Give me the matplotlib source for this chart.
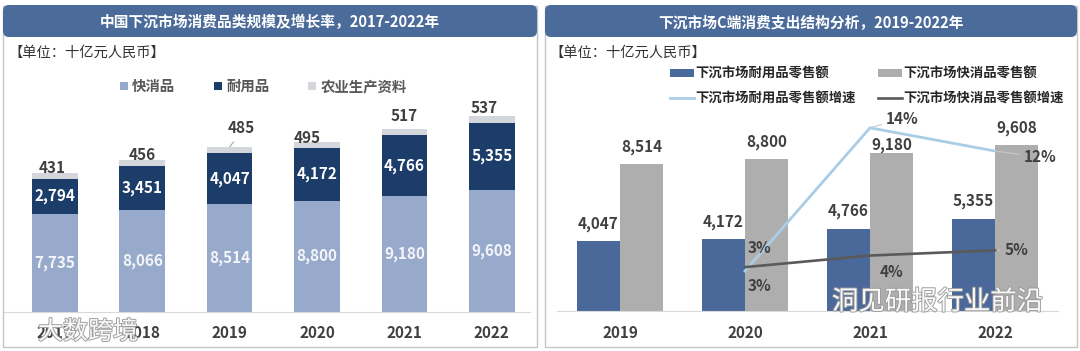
import numpy as np
import matplotlib
matplotlib.use('Agg')
import matplotlib.pyplot as plt
from matplotlib.patches import FancyBboxPatch, Rectangle
from matplotlib.lines import Line2D
import matplotlib.patheffects as pe

plt.rcParams['font.family'] = ['Noto Sans CJK SC', 'DejaVu Sans']

# ---------------- data ----------------
left_title = '中国下沉市场消费品类规模及增长率，2017-2022年'
right_title = '下沉市场C端消费支出结构分析，2019-2022年'
unit_text = '【单位：十亿元人民币】'

years_left = ['2017', '2018', '2019', '2020', '2021', '2022']
left_series = ['快消品', '耐用品', '农业生产资料']
fmcg = [7735, 8066, 8514, 8800, 9180, 9608]
durable = [2794, 3451, 4047, 4172, 4766, 5355]
agri = [431, 456, 485, 495, 517, 537]

years_right = ['2019', '2020', '2021', '2022']
right_series = ['下沉市场耐用品零售额', '下沉市场快消品零售额',
                '下沉市场耐用品零售额增速', '下沉市场快消品零售额增速']
durable_retail = [4047, 4172, 4766, 5355]
fmcg_retail = [8514, 8800, 9180, 9608]
growth_years = ['2020', '2021', '2022']
durable_growth = [3.1, 14.2, 12.4]
fmcg_growth = [3.4, 4.3, 4.7]

watermarks = ['大数跨境', '洞见研报行业前沿']

# ---------------- style ----------------
W, H = 1080, 351
C_TITLE = '#4B6C9B'
C_L1, C_L2, C_L3 = '#97AACB', '#1C3C69', '#D3D6DB'
C_R1, C_R2 = '#4A689A', '#AEAEAE'
C_G1, C_G2 = '#A9CDE5', '#5A5A5A'
C_TXT = '#404040'
PX = 0.72  # px -> pt

fig = plt.figure(figsize=(W / 100, H / 100), dpi=100)
fig.patch.set_facecolor('white')


def ax_rect(x0, x1, ytop, ybot):
    return [x0 / W, 1 - ybot / H, (x1 - x0) / W, (ybot - ytop) / H]


# panels + title bars
for x0, x1, title, ux in [(3, 537, left_title, 8), (545, 1077, right_title, 549)]:
    fig.add_artist(Rectangle((x0 / 100, (H - 347) / 100), (x1 - x0) / 100, (347 - 6) / 100,
                             transform=fig.dpi_scale_trans, fill=False,
                             edgecolor='#c4c4c4', lw=1.0))
    fig.add_artist(FancyBboxPatch((x0 / 100, (H - 37) / 100), (x1 - x0) / 100, 32 / 100,
                                  boxstyle='round,pad=0,rounding_size=0.06',
                                  transform=fig.dpi_scale_trans,
                                  facecolor=C_TITLE, edgecolor='none'))
    fig.text(((x0 + x1) / 2) / W, 1 - 22 / H, title, ha='center', va='center',
             color='white', fontsize=10.6, fontweight='bold')
    fig.text(ux / W, 1 - 53 / H, unit_text, ha='left', va='center',
             color='#333333', fontsize=10.3)

# ---------------- left chart ----------------
axL = fig.add_axes(ax_rect(3, 530, 100, 312))
xl = np.arange(len(years_left))
bw = 45.5 / 87.4
b1 = axL.bar(xl, fmcg, bw, color=C_L1, zorder=2)
b2 = axL.bar(xl, durable, bw, bottom=fmcg, color=C_L2, zorder=2)
tot2 = np.array(fmcg) + np.array(durable)
b3 = axL.bar(xl, agri, bw, bottom=tot2, color=C_L3, zorder=2)
axL.set_xlim(-0.593, 5.436)
axL.set_ylim(0, 212 * 79)
axL.set_yticks([])
axL.set_xticks(xl, years_left)
axL.tick_params(axis='x', length=0, pad=9.5, labelsize=11, labelcolor=C_TXT)
for lab in axL.get_xticklabels():
    lab.set_fontweight('bold')
for s in ['top', 'left', 'right']:
    axL.spines[s].set_visible(False)
axL.spines['bottom'].set_color('#d9d9d9')

for i in xl:
    axL.text(i, fmcg[i] / 2, f'{fmcg[i]:,}', ha='center', va='center',
             color='#f3f5f9', fontsize=11, fontweight='bold', zorder=3)
    axL.text(i, fmcg[i] + durable[i] / 2, f'{durable[i]:,}', ha='center', va='center',
             color='white', fontsize=11, fontweight='bold', zorder=3)

left_off = [(-3, 5), (0, 5), (11.5, 19), (-10, 4), (0, 13), (-8, 8)]
for i in xl:
    dx, dy = left_off[i]
    kw = {}
    if dy > 15:
        kw['arrowprops'] = dict(arrowstyle='-', color='#a6a6a6', lw=0.8,
                                shrinkA=3, shrinkB=0, relpos=(0.4, 0))
    axL.annotate(f'{agri[i]:,}', xy=(i, tot2[i] + agri[i]), xytext=(dx * PX, dy * PX),
                 textcoords='offset points', ha='center', va='center',
                 color=C_TXT, fontsize=11, fontweight='bold', zorder=4, **kw)

fig.legend(handles=[b1, b2, b3], labels=left_series, ncol=3, loc='center',
           bbox_to_anchor=(263.5 / W, 1 - 87 / H), frameon=False,
           prop={'size': 10.4, 'weight': 'bold'}, labelcolor='#595959',
           handlelength=0.55, handleheight=0.55, handletextpad=0.28,
           columnspacing=2.7, borderpad=0)

# ---------------- right chart ----------------
axR = fig.add_axes(ax_rect(557, 1058, 120, 311))
xr = np.arange(len(years_right))
bw2 = 43 / 125
hb = axR.bar(xr - bw2 / 2, durable_retail, bw2, color=C_R1, zorder=2)
hg = axR.bar(xr + bw2 / 2, fmcg_retail, bw2, color=C_R2, zorder=2)
axR.set_xlim(-0.504, 3.504)
axR.set_ylim(0, 191 * 58)
axR.set_yticks([])
axR.set_xticks(xr, years_right)
axR.tick_params(axis='x', length=0, pad=10, labelsize=11, labelcolor=C_TXT)
for lab in axR.get_xticklabels():
    lab.set_fontweight('bold')
for s in ['top', 'left', 'right']:
    axR.spines[s].set_visible(False)
axR.spines['bottom'].set_color('#d9d9d9')

fmcg_lab_dy = [17.5, 17.5, 8, 17.5]
for i in xr:
    axR.annotate(f'{durable_retail[i]:,}', xy=(i - bw2 / 2, durable_retail[i]),
                 xytext=(0, 17.5 * PX), textcoords='offset points', ha='center',
                 va='center', color=C_TXT, fontsize=11, fontweight='bold')
    axR.annotate(f'{fmcg_retail[i]:,}', xy=(i + bw2 / 2, fmcg_retail[i]),
                 xytext=(0, fmcg_lab_dy[i] * PX), textcoords='offset points', ha='center',
                 va='center', color=C_TXT, fontsize=11, fontweight='bold')

axR2 = axR.twinx()
axR2.set_ylim(0, 191 / 12.9)
axR2.set_yticks([])
for s in axR2.spines.values():
    s.set_visible(False)
gx = [years_right.index(y) for y in growth_years]
axR2.plot(gx, durable_growth, color=C_G1, lw=2.0, zorder=3)
axR2.plot(gx, fmcg_growth, color=C_G2, lw=1.9, zorder=3)

dur_off = [(15, 23), (32, 9), (45, -6)]
fm_off = [(15, -19), (21, -16), (21, 0)]
for series, offs, leaders in [(durable_growth, dur_off, [False, True, True]),
                              (fmcg_growth, fm_off, [False, False, True])]:
    for k, (g, v) in enumerate(zip(gx, series)):
        dx, dy = offs[k]
        kw = {}
        if leaders[k]:
            kw['arrowprops'] = dict(arrowstyle='-', color='#c8c8c8', lw=0.8,
                                    shrinkA=1, shrinkB=2)
        axR2.annotate(f'{v:.0f}%', xy=(g, v), xytext=(dx * PX, dy * PX),
                      textcoords='offset points', ha='center', va='center',
                      color=C_TXT, fontsize=11, fontweight='bold', zorder=4, **kw)

hl1 = Line2D([], [], color=C_G1, lw=2.0)
hl2 = Line2D([], [], color=C_G2, lw=1.9)
fig.legend(handles=[hb, hl1, hg, hl2],
           labels=[right_series[0], right_series[2], right_series[1], right_series[3]],
           ncol=2, loc='center left', bbox_to_anchor=(663 / W, 1 - 86 / H), frameon=False,
           prop={'size': 9.6, 'weight': 'bold'}, labelcolor='#262626',
           handlelength=1.8, handleheight=0.45, handletextpad=0.15,
           columnspacing=1.6, labelspacing=0.8, borderpad=0)

# ---------------- watermarks ----------------
wm_fx = [pe.withStroke(linewidth=1.4, foreground='#9a9a9a')]
fig.text(38 / W, 1 - 332 / H, watermarks[0], ha='left', va='center', fontsize=18,
         color='white', alpha=0.95, path_effects=wm_fx, zorder=10)
fig.text(832 / W, 1 - 302 / H, watermarks[1], ha='left', va='center', fontsize=19,
         color='white', alpha=0.95, path_effects=wm_fx, zorder=10)

fig.savefig('out.png', dpi=100, facecolor='white')
